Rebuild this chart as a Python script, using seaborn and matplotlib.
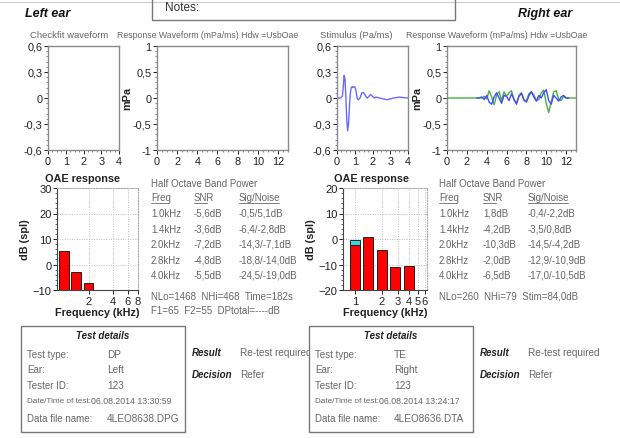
import numpy as np
import matplotlib
matplotlib.use("Agg")
import matplotlib.pyplot as plt
import seaborn as sns
from matplotlib.ticker import FixedLocator, MultipleLocator, NullLocator, FixedFormatter
from matplotlib.patches import Rectangle
from matplotlib.lines import Line2D

# ---------------- data ----------------
stim_t = [0.0, 0.2, 0.3, 0.35, 0.4, 0.45, 0.5, 0.55, 0.6, 0.65, 0.7, 0.75, 0.8, 0.85,
          0.9, 0.95, 1.0, 1.05, 1.1, 1.15, 1.2, 1.25, 1.3, 1.35, 1.4, 1.5, 1.6, 1.65,
          1.7, 1.8, 1.9, 2.0, 2.1, 2.2, 2.4, 2.6, 2.8, 3.0, 3.2, 3.5, 4.0]
stim_v = [0.0, 0.0, 0.02, 0.12, 0.26, 0.22, 0.0, -0.25, -0.38, -0.3, -0.1, 0.05, 0.12, 0.13,
          0.12, 0.13, 0.13, 0.1, 0.04, -0.01, -0.02, -0.01, 0.0, 0.03, 0.06, 0.06, 0.03, 0.01,
          0.0, 0.02, 0.04, 0.02, 0.0, 0.01, 0.0, -0.01, -0.02, -0.01, 0.0, 0.01, 0.0]

resp_blue_t = [3.0, 3.25, 3.5, 3.75, 4.0, 4.25, 4.5, 4.75, 5.0, 5.25, 5.5, 5.75, 6.0, 6.25,
               6.5, 6.75, 7.0, 7.25, 7.5, 7.75, 8.0, 8.25, 8.5, 8.75, 9.0, 9.25, 9.5, 9.75,
               10.0, 10.25, 10.5, 10.75, 11.0, 11.25, 11.5, 11.75, 12.0, 12.25]
resp_blue_v = [0.0, 0.0, 0.02, -0.03, 0.05, -0.08, -0.12, 0.02, 0.1, 0.0, -0.1, 0.05, 0.03, -0.05,
               0.08, -0.02, -0.12, 0.03, 0.09, -0.04, -0.08, 0.04, 0.12, 0.02, -0.06, 0.05, 0.0, 0.1,
               0.16, -0.05, -0.12, 0.05, 0.0, -0.06, 0.02, 0.05, 0.0, 0.0]

resp_green_t = [0.0, 3.5, 3.75, 4.0, 4.25, 4.5, 4.75, 5.0, 5.25, 5.5, 5.75, 6.0, 6.25, 6.5,
                6.75, 7.0, 7.25, 7.5, 7.75, 8.0, 8.25, 8.5, 8.75, 9.0, 9.25, 9.5, 9.75, 10.0,
                10.25, 10.5, 10.75, 11.0, 11.25, 11.5, 11.75, 12.0, 12.5, 13.0]
resp_green_v = [0.0, 0.0, 0.03, -0.02, 0.14, 0.02, -0.13, 0.05, 0.12, -0.05, 0.12, 0.03, 0.1, 0.14,
                -0.04, -0.1, 0.05, 0.1, -0.03, -0.06, 0.08, 0.12, 0.06, -0.05, -0.03, 0.1, 0.15, -0.1,
                -0.28, -0.08, 0.12, 0.14, -0.02, -0.05, 0.03, 0.0, 0.0, 0.0]

band_freqs = [1.0, 1.4, 2.0, 2.8, 4.0]
band_labels = ["1.0kHz", "1.4kHz", "2.0kHz", "2.8kHz", "4.0kHz"]
left_snr = ["-5,6dB", "-3,6dB", "-7,2dB", "-4,8dB", "-5,5dB"]
left_signal = [-0.5, -6.4, -14.3, -18.8, -24.5]
left_noise = [5.1, -2.8, -7.1, -14.0, -19.0]
right_snr = ["1,8dB", "-4,2dB", "-10,3dB", "-2,0dB", "-6,5dB"]
right_signal = [-0.4, -3.5, -14.5, -12.9, -17.0]
right_noise = [-2.2, 0.8, -4.2, -10.9, -10.5]

def signoise(s, n):
    return [f"{a:.1f}/{b:.1f}dB".replace(".", ",") for a, b in zip(s, n)]

left_details = [("Test type:", "DP"), ("Ear:", "Left"), ("Tester ID:", "123"),
                ("Date/Time of test:", "06.08.2014 13:30:59"), ("Data file name:", "4LEO8638.DPG")]
right_details = [("Test type:", "TE"), ("Ear:", "Right"), ("Tester ID:", "123"),
                 ("Date/Time of test:", "06.08.2014 13:24:17"), ("Data file name:", "4LEO8636.DTA")]

# ---------------- style ----------------
sns.set_theme(style="white")
plt.rcParams['font.family'] = ['Liberation Sans', 'DejaVu Sans']
plt.rcParams['axes.linewidth'] = 0.8

W, H = 620, 439
fig = plt.figure(figsize=(W / 100, H / 100), dpi=100)
fig.patch.set_facecolor("white")

GRAY = "#666666"
DARK = "#222222"


def add_ax(x0, y0, x1, y1):
    return fig.add_axes([x0 / W, 1 - y1 / H, (x1 - x0) / W, (y1 - y0) / H])


def ftext(x, y, s, **kw):
    kw.setdefault("va", "center")
    kw.setdefault("ha", "left")
    kw.setdefault("fontsize", 7.0)
    kw.setdefault("color", GRAY)
    return fig.text(x / W, 1 - y / H, s, **kw)


def style_wave(ax, yticks, ylabels, xmax, xticks, ymin_minor, xminor):
    ax.set_xlim(0, xmax)
    ax.set_ylim(yticks[-1], yticks[0])
    ax.yaxis.set_major_locator(FixedLocator(yticks))
    ax.yaxis.set_major_formatter(FixedFormatter(ylabels))
    ax.xaxis.set_major_locator(FixedLocator(xticks))
    ax.yaxis.set_minor_locator(MultipleLocator(ymin_minor))
    ax.xaxis.set_minor_locator(MultipleLocator(xminor))
    ax.tick_params(which="major", direction="out", length=3, width=0.7, labelsize=7.8,
                   colors=DARK, pad=1, left=True, bottom=True)
    ax.tick_params(which="minor", direction="out", length=1.5, width=0.5, colors="#555555",
                   left=True, bottom=True)
    for s in ax.spines.values():
        s.set_color("#8a8a8a")
        s.set_linewidth(1.0)
    ax.set_xlabel("")
    ax.set_ylabel("")


# ---------------- header ----------------
fig.add_artist(Line2D([0, 1], [1 - 3 / H, 1 - 3 / H], color="#cccccc", lw=0.8))
fig.add_artist(Line2D([152 / W, 152 / W, 455 / W, 455 / W],
                      [1, 1 - 21 / H, 1 - 21 / H, 1], color="#777777", lw=1.0))
ftext(165, 8, "Notes:", fontsize=8.5, color="#333333")
ftext(25, 14, "Left ear", fontsize=9, fontweight="bold", fontstyle="italic", color="#111111")
ftext(518, 14, "Right ear", fontsize=9, fontweight="bold", fontstyle="italic", color="#111111")

# ---------------- waveform panels ----------------
wy0, wy1 = 47, 151
chk_ticks = [0.6, 0.3, 0.0, -0.3, -0.6]
chk_labels = ["0,6", "0,3", "0", "-0,3", "-0,6"]
rsp_ticks = [1.0, 0.5, 0.0, -0.5, -1.0]
rsp_labels = ["1", "0,5", "0", "-0,5", "-1"]

ax_chk = add_ax(48, wy0, 119, wy1)
style_wave(ax_chk, chk_ticks, chk_labels, 4, [0, 1, 2, 3, 4], 0.06, 0.25)
ax_rl = add_ax(157, wy0, 288, wy1)
style_wave(ax_rl, rsp_ticks, rsp_labels, 13, [0, 2, 4, 6, 8, 10, 12], 0.1, 0.5)
ax_rl.set_ylabel("mPa", fontsize=7.8, fontweight="bold", color=DARK, labelpad=0)

ax_stim = add_ax(337, wy0, 408, wy1)
sns.lineplot(x=stim_t, y=stim_v, ax=ax_stim, color="#6a6aff", lw=1.0)
style_wave(ax_stim, chk_ticks, chk_labels, 4, [0, 1, 2, 3, 4], 0.06, 0.25)

ax_rr = add_ax(447, wy0, 576, wy1)
sns.lineplot(x=resp_green_t, y=resp_green_v, ax=ax_rr, color="#45b045", lw=1.0)
sns.lineplot(x=resp_blue_t, y=resp_blue_v, ax=ax_rr, color="#4848ff", lw=1.0)
style_wave(ax_rr, rsp_ticks, rsp_labels, 13, [0, 2, 4, 6, 8, 10, 12], 0.1, 0.5)
ax_rr.set_ylabel("mPa", fontsize=7.8, fontweight="bold", color=DARK, labelpad=0)

ftext(30, 36, "Checkfit waveform", fontsize=6.8)
ftext(117, 36, "Response Waveform (mPa/ms) Hdw =UsbOae", fontsize=6.3)
ftext(320, 36, "Stimulus (Pa/ms)", fontsize=6.8)
ftext(406, 36, "Response Waveform (mPa/ms) Hdw =UsbOae", fontsize=6.3)

# ---------------- OAE bars ----------------
def oae_panel(rect, ylim, yticks, xlim, xticks, signal, noise):
    ax = add_ax(*rect)
    ax.set_xscale("log")
    ax.set_xlim(*xlim)
    ax.set_ylim(*ylim)
    f = np.array(band_freqs)
    lo = f * 2 ** -0.19
    wid = f * (2 ** 0.19 - 2 ** -0.19)
    sig = np.array(signal)
    noi = np.array(noise)
    ms = sig > ylim[0]
    ax.bar(lo[ms], sig[ms] - ylim[0], width=wid[ms], bottom=ylim[0], align="edge",
           color="#33dddd", edgecolor="#222222", lw=0.7, zorder=2)
    mn = noi > ylim[0]
    ax.bar(lo[mn], noi[mn] - ylim[0], width=wid[mn], bottom=ylim[0], align="edge",
           color="#ff0000", edgecolor="#222222", lw=0.7, zorder=3)
    ax.xaxis.set_major_locator(FixedLocator(xticks))
    ax.xaxis.set_major_formatter(FixedFormatter([str(t) for t in xticks]))
    ax.xaxis.set_minor_locator(NullLocator())
    ax.yaxis.set_major_locator(FixedLocator(yticks))
    ax.yaxis.set_minor_locator(MultipleLocator(2))
    ax.grid(True, which="major", color="#bbbbbb", ls=(0, (1, 1.5)), lw=0.7, zorder=0)
    ax.tick_params(which="major", direction="out", length=3, width=0.7, labelsize=8,
                   colors=DARK, pad=1, left=True, bottom=True)
    ax.tick_params(which="minor", direction="out", length=1.5, width=0.5, left=True, bottom=False)
    for side in ["top", "right"]:
        ax.spines[side].set_color("#aaaaaa")
        ax.spines[side].set_linestyle((0, (1, 1.5)))
    for side in ["left", "bottom"]:
        ax.spines[side].set_color("#444444")
    ax.set_ylabel("dB (spl)", fontsize=7.8, fontweight="bold", color=DARK, labelpad=2)
    ax.set_xlabel("Frequency (kHz)", fontsize=7.8, fontweight="bold", color=DARK, labelpad=1)
    return ax

oae_panel((57, 189, 138, 291), (-10, 30), [-10, 0, 10, 20, 30], (0.82, 8.05), [2, 4, 6, 8],
          left_signal, left_noise)
oae_panel((343, 189, 427, 291), (-20, 20), [-20, -10, 0, 10, 20], (0.74, 6.35),
          [1, 2, 3, 4, 5, 6], right_signal, right_noise)
ftext(45, 179, "OAE response", fontsize=7.8, fontweight="bold", color=DARK)
ftext(334, 179, "OAE response", fontsize=7.8, fontweight="bold", color=DARK)

# ---------------- band tables ----------------
def band_table(x0, x1, x2, snr, sig, noi, foot):
    ftext(x0, 184, "Half Octave Band Power")
    for x, h in [(x0, "Freq"), (x1, "SNR"), (x2, "Sig/Noise")]:
        ftext(x, 198, h)
        fig.add_artist(Line2D([x / W, (x + len(h) * 4.4) / W], [1 - 203.5 / H, 1 - 203.5 / H],
                              color=GRAY, lw=0.6))
    rows_y = [214, 230, 245, 261, 276]
    sn = signoise(sig, noi)
    for y, fl, s, n in zip(rows_y, band_labels, snr, sn):
        ftext(x0, y, fl)
        ftext(x1, y, s)
        ftext(x2, y, n)
    for i, line in enumerate(foot):
        ftext(x0, 297 + 14 * i, line)

band_table(151, 194, 239, left_snr, left_signal, left_noise,
           ["NLo=1468  NHi=468  Time=182s", "F1=65  F2=55  DPtotal=----dB"])
band_table(439, 483, 528, right_snr, right_signal, right_noise,
           ["NLo=260  NHi=79  Stim=84,0dB"])

# ---------------- test details ----------------
def details(bx0, by0, bx1, by1, rows, valx, datex, rx):
    rect = Rectangle((bx0 / W, 1 - by1 / H), (bx1 - bx0) / W, (by1 - by0) / H,
                     transform=fig.transFigure, facecolor="white", edgecolor="#777777",
                     lw=1.0, zorder=5)
    fig.add_artist(rect)
    ftext((bx0 + bx1) / 2, 336, "Test details", ha="center", fontsize=7.0, fontweight="bold",
          fontstyle="italic", color="#222222", zorder=6)
    ys = [355, 370, 386, 402, 419]
    for y, (k, v) in zip(ys, rows):
        if k.startswith("Date"):
            ftext(bx0 + 6, y, k, fontsize=5.9, zorder=6)
            ftext(datex, y, v, fontsize=6.3, zorder=6)
        else:
            ftext(bx0 + 6, y, k, fontsize=7.0, zorder=6)
            ftext(valx, y, v, fontsize=7.2, zorder=6)
    ftext(rx, 353, "Result", fontsize=7.0, fontweight="bold", fontstyle="italic", color="#222222")
    ftext(rx + 48, 353, "Re-test required", fontsize=7.2)
    ftext(rx, 375, "Decision", fontsize=7.0, fontweight="bold", fontstyle="italic", color="#222222")
    ftext(rx + 48, 375, "Refer", fontsize=7.2)

details(21, 327, 185, 433, left_details, 107, 91, 192)
details(309, 327, 473, 433, right_details, 394, 379, 480)

fig.savefig("out.png", dpi=100, facecolor="white")
